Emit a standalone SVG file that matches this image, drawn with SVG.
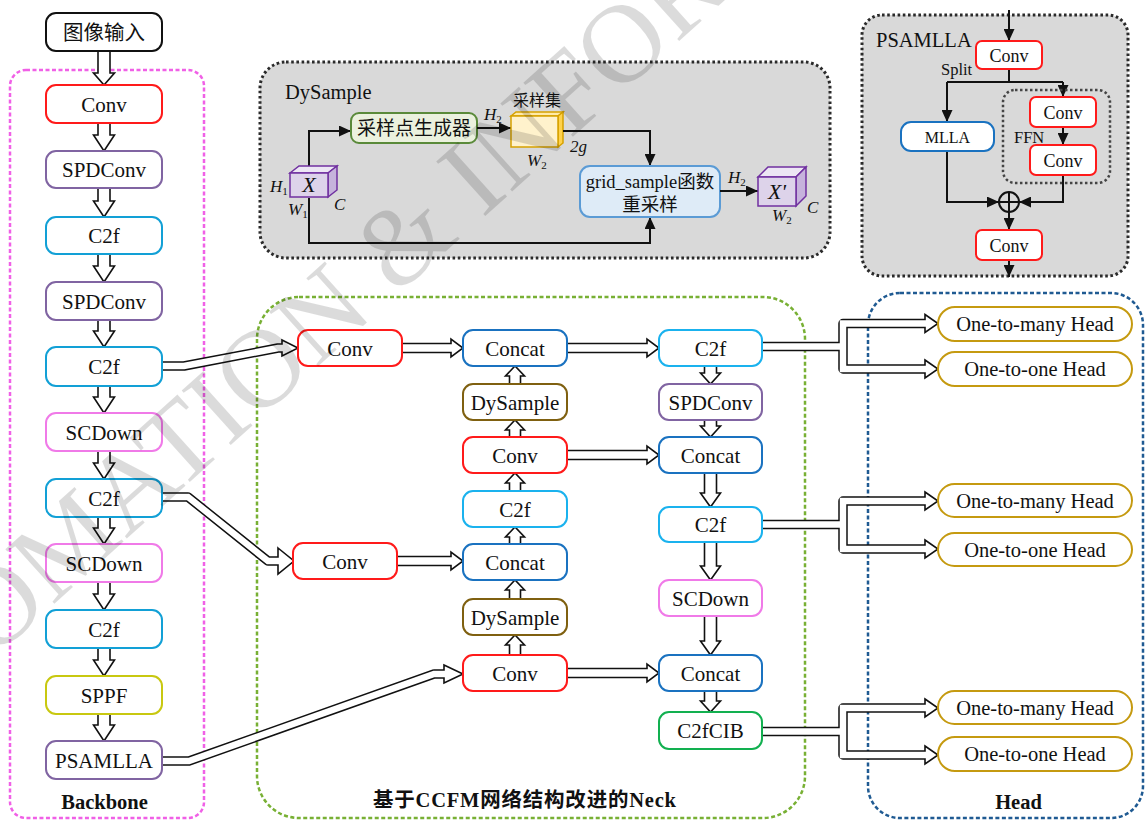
<svg xmlns="http://www.w3.org/2000/svg" width="1146" height="820" viewBox="0 0 1146 820">
  <style>
    .t{font-family:"Liberation Serif","Noto Sans CJK SC",serif;font-size:21px;fill:#111;text-anchor:middle}
    .cjk{font-family:"Noto Sans CJK SC",sans-serif;font-size:20px;fill:#111;text-anchor:middle}
    .b{font-family:"Liberation Serif","Noto Sans CJK SC",serif;font-size:20.5px;font-weight:bold;fill:#111;text-anchor:middle}
    .it{font-family:"Liberation Serif",serif;font-style:italic;font-size:17px;fill:#111}
    .sub{font-size:11px;font-style:normal}
    .n rect{fill:#fff;stroke-width:2}
    .red rect{stroke:#ff1a1a}
    .pur rect{stroke:#8064a2}
    .cy rect{stroke:#12a0d6}
    .cy2 rect{stroke:#1ab2ee}
    .pk rect{stroke:#f07ae8}
    .ol rect{stroke:#c8c810}
    .bl rect{stroke:#1a72c0}
    .br rect{stroke:#7f6010}
    .gr rect{stroke:#12b050}
    .hd rect{stroke:#c59a10}
    .blk rect{stroke:#111}
    .frame{fill:none;stroke-width:2.5;stroke-dasharray:4 2.5}
    .panel{fill:#d9d9d9;stroke:#2a2a2a;stroke-width:3;stroke-dasharray:2.6 2.6}
    .blk-arrow{fill:#fff;stroke:#111;stroke-width:1.6;stroke-linejoin:miter}
    .pipe-o{fill:none;stroke:#111;stroke-width:9.5;stroke-linejoin:round}
    .pipe-i{fill:none;stroke:#fff;stroke-width:6.5;stroke-linejoin:miter}
    .ln{fill:none;stroke:#111;stroke-width:2}
    .wm{font-family:"Liberation Serif",serif;font-size:112px;fill:#000;fill-opacity:0.14}
  </style>
  <defs>
    <marker id="ah" viewBox="0 0 12 11" refX="12" refY="5.5" markerWidth="12" markerHeight="11" markerUnits="userSpaceOnUse" orient="auto">
      <path d="M0,0 L12,5.5 L0,11 z" fill="#111"/>
    </marker>
  </defs>

  <!-- group frames -->
  <rect class="frame" x="10" y="70" width="194" height="748" rx="16" stroke="#f060e6"/>
  <rect class="frame" x="257" y="297" width="548" height="521" rx="42" stroke="#78b034"/>
  <rect class="frame" x="868" y="293" width="275" height="525" rx="32" stroke="#1f5a92"/>
  <text class="b" x="104.5" y="809">Backbone</text>
  <text class="b" x="524.5" y="807" textLength="303" lengthAdjust="spacing">基于CCFM网络结构改进的Neck</text>
  <text class="b" x="1018.5" y="809">Head</text>

  <!-- DySample detail panel -->
  <g id="dysample-panel">
    <rect class="panel" x="260" y="62" width="570" height="196" rx="26"/>
    <text class="t" x="285" y="99" style="text-anchor:start;font-size:20.5px">DySample</text>
    <path class="ln" d="M309,166 V131 H351" marker-end="url(#ah)"/>
    <rect x="351" y="113" width="126" height="30" rx="8" fill="#ebf1de" stroke="#5a8a3a" stroke-width="2"/>
    <text class="t" x="414" y="135" style="font-size:19px;font-family:'Noto Sans CJK SC',sans-serif">采样点生成器</text>
    <path class="ln" d="M477,128 H511" marker-end="url(#ah)"/>
    <text class="it" x="484" y="120">H<tspan class="sub" dy="3">2</tspan></text>
    <!-- sampling set cuboid -->
    <polygon points="511,116 516,112 563,112 558,116" fill="#ffeaa8" stroke="#d6a100" stroke-width="1.5"/>
    <polygon points="558,116 563,112 563,143 558,147" fill="#ffd24d" stroke="#d6a100" stroke-width="1.5"/>
    <rect x="511" y="116" width="47" height="31" fill="#fff2cc" stroke="#d6a100" stroke-width="1.5"/>
    <text class="cjk" x="537" y="106" style="font-size:16px">采样集</text>
    <text class="it" x="527" y="166">W<tspan class="sub" dy="3">2</tspan></text>
    <text class="it" x="570" y="152">2g</text>
    <path class="ln" d="M563,131 H650 V166" marker-end="url(#ah)"/>
    <path class="ln" d="M309,198 V243 H650 V217" marker-end="url(#ah)"/>
    <rect x="580" y="166" width="140" height="51" rx="10" fill="#deebf7" stroke="#5b9bd5" stroke-width="2"/>
    <text class="t" x="650" y="188" style="font-size:18.5px">grid_sample函数</text>
    <text class="t" x="650" y="211" style="font-size:18.5px">重采样</text>
    <path class="ln" d="M720,191 H758" marker-end="url(#ah)"/>
    <text class="it" x="728" y="183">H<tspan class="sub" dy="3">2</tspan></text>
    <!-- input cube X -->
    <polygon points="290,173 299,166 337,166 328,173" fill="#ece6f4" stroke="#7030a0" stroke-width="1.5"/>
    <polygon points="328,173 337,166 337,190 328,197" fill="#c6b3dc" stroke="#7030a0" stroke-width="1.5"/>
    <rect x="290" y="173" width="38" height="24" fill="#ddd3ea" stroke="#7030a0" stroke-width="1.5"/>
    <text class="it" x="309" y="192" style="font-size:22px;text-anchor:middle">X</text>
    <text class="it" x="270" y="192">H<tspan class="sub" dy="3">1</tspan></text>
    <text class="it" x="288" y="215">W<tspan class="sub" dy="3">1</tspan></text>
    <text class="it" x="334" y="210">C</text>
    <!-- output cube X' -->
    <polygon points="758,177 768,167 806,167 796,177" fill="#ece6f4" stroke="#7030a0" stroke-width="1.5"/>
    <polygon points="796,177 806,167 806,196 796,206" fill="#c6b3dc" stroke="#7030a0" stroke-width="1.5"/>
    <rect x="758" y="177" width="38" height="29" fill="#ddd3ea" stroke="#7030a0" stroke-width="1.5"/>
    <text class="it" x="777" y="199" style="font-size:22px;text-anchor:middle">X'</text>
    <text class="it" x="772" y="221">W<tspan class="sub" dy="3">2</tspan></text>
    <text class="it" x="807" y="213">C</text>
  </g>

  <!-- PSAMLLA detail panel -->
  <g id="psamlla-panel">
    <rect class="panel" x="862" y="15" width="266" height="261" rx="20"/>
    <text class="t" x="876" y="47" style="text-anchor:start;font-size:20.5px">PSAMLLA</text>
    <path class="ln" d="M1009,10 V41" marker-end="url(#ah)"/>
    <path class="ln" d="M1009,69 V82 M947,82 H1063"/>
    <path class="ln" d="M947,82 V122" marker-end="url(#ah)"/>
    <path class="ln" d="M1063,82 V97" marker-end="url(#ah)"/>
    <text class="t" x="941" y="75" style="text-anchor:start;font-size:16.5px">Split</text>
    <rect x="1003" y="90" width="107" height="93" rx="12" fill="none" stroke="#444" stroke-width="2.5" stroke-dasharray="2.5 2.5"/>
    <text class="t" x="1014" y="143" style="text-anchor:start;font-size:16.5px">FFN</text>
    <path class="ln" d="M1063,127 V145" marker-end="url(#ah)"/>
    <path class="ln" d="M947,151 V202 H999" marker-end="url(#ah)"/>
    <path class="ln" d="M1063,175 V202 H1019" marker-end="url(#ah)"/>
    <circle cx="1009" cy="202" r="10" fill="none" stroke="#111" stroke-width="2"/>
    <path class="ln" d="M999,202 H1019 M1009,192 V212"/>
    <path class="ln" d="M1009,212 V230" marker-end="url(#ah)"/>
    <path class="ln" d="M1009,260 V277" marker-end="url(#ah)"/>
    <g id="ps-conv-in" class="n red"><rect x="976" y="41" width="66" height="28" rx="6"/><text class="t" x="1009" y="62" style="font-size:18px">Conv</text></g>
    <g id="ps-mlla" class="n bl"><rect x="901" y="122" width="93" height="29" rx="10"/><text class="t" x="947.5" y="143" style="font-size:16px">MLLA</text></g>
    <g id="ps-ffn-conv1" class="n red"><rect x="1030" y="97" width="66" height="30" rx="6"/><text class="t" x="1063" y="119" style="font-size:18px">Conv</text></g>
    <g id="ps-ffn-conv2" class="n red"><rect x="1030" y="145" width="66" height="30" rx="6"/><text class="t" x="1063" y="167" style="font-size:18px">Conv</text></g>
    <g id="ps-conv-out" class="n red"><rect x="976" y="230" width="66" height="30" rx="6"/><text class="t" x="1009" y="252" style="font-size:18px">Conv</text></g>
  </g>

  <!-- connectors -->
  <g id="connectors">
    <!-- backbone chain -->
    <polygon class="blk-arrow" points="98,51 98,73 93.5,73 104,85 114.5,73 110,73 110,51"/>
    <polygon class="blk-arrow" points="98,123 98,135 93.5,135 104,151 114.5,135 110,135 110,123"/>
    <polygon class="blk-arrow" points="98,188 98,201 93.5,201 104,217 114.5,201 110,201 110,188"/>
    <polygon class="blk-arrow" points="98,254 98,266 93.5,266 104,282 114.5,266 110,266 110,254"/>
    <polygon class="blk-arrow" points="98,320 98,331 93.5,331 104,347 114.5,331 110,331 110,320"/>
    <polygon class="blk-arrow" points="98,386 98,397 93.5,397 104,413 114.5,397 110,397 110,386"/>
    <polygon class="blk-arrow" points="98,451 98,463 93.5,463 104,479 114.5,463 110,463 110,451"/>
    <polygon class="blk-arrow" points="98,517 98,528 93.5,528 104,544 114.5,528 110,528 110,517"/>
    <polygon class="blk-arrow" points="98,582 98,594 93.5,594 104,610 114.5,594 110,594 110,582"/>
    <polygon class="blk-arrow" points="98,648 98,660 93.5,660 104,676 114.5,660 110,660 110,648"/>
    <polygon class="blk-arrow" points="98,714 98,725 93.5,725 104,741 114.5,725 110,725 110,714"/>

    <!-- backbone to neck pipes -->
    <path class="pipe-o" d="M160,366 H184 L278,348 H284"/>
    <path class="pipe-o" d="M160,497 H188 L268,561 H280"/>
    <path class="pipe-o" d="M160,761 H189 L434,674 H446"/>
    <polygon class="blk-arrow" points="282,340 298,348 282,356"/>
    <polygon class="blk-arrow" points="278,548 294,561 278,574"/>
    <polygon class="blk-arrow" points="444,665 463,674 444,683"/>
    <path class="pipe-i" d="M160,366 H184 L278,348 H284.5"/>
    <path class="pipe-i" d="M160,497 H188 L268,561 H280.5"/>
    <path class="pipe-i" d="M160,761 H189 L434,674 H446.5"/>

    <!-- neck horizontal arrows -->
    <polygon class="blk-arrow" points="402,343.5 451,343.5 451,339 463,348 451,357 451,352.5 402,352.5"/>
    <polygon class="blk-arrow" points="567,343.5 647,343.5 647,339 659,348 647,357 647,352.5 567,352.5"/>
    <polygon class="blk-arrow" points="567,450.5 647,450.5 647,446 659,455 647,464 647,459.5 567,459.5"/>
    <polygon class="blk-arrow" points="397,556.5 451,556.5 451,552 463,561 451,570 451,565.5 397,565.5"/>
    <polygon class="blk-arrow" points="567,668.5 647,668.5 647,664 659,673 647,682 647,677.5 567,677.5"/>

    <!-- neck upward column -->
    <polygon class="blk-arrow" points="509.5,384 509.5,376 505.5,376 515,366 524.5,376 520.5,376 520.5,384"/>
    <polygon class="blk-arrow" points="509.5,437 509.5,430 505.5,430 515,420 524.5,430 520.5,430 520.5,437"/>
    <polygon class="blk-arrow" points="509.5,491 509.5,483 505.5,483 515,473 524.5,483 520.5,483 520.5,491"/>
    <polygon class="blk-arrow" points="509.5,544 509.5,537 505.5,537 515,527 524.5,537 520.5,537 520.5,544"/>
    <polygon class="blk-arrow" points="509.5,599 509.5,590 505.5,590 515,580 524.5,590 520.5,590 520.5,599"/>
    <polygon class="blk-arrow" points="509.5,655 509.5,645 505.5,645 515,635 524.5,645 520.5,645 520.5,655"/>

    <!-- neck downward column -->
    <polygon class="blk-arrow" points="704.5,366 704.5,373 700.5,373 710.5,384 720.5,373 716.5,373 716.5,366"/>
    <polygon class="blk-arrow" points="704.5,420 704.5,426 700.5,426 710.5,437 720.5,426 716.5,426 716.5,420"/>
    <polygon class="blk-arrow" points="704.5,473 704.5,493 700.5,493 710.5,507 720.5,493 716.5,493 716.5,473"/>
    <polygon class="blk-arrow" points="704.5,542 704.5,566 700.5,566 710.5,580 720.5,566 716.5,566 716.5,542"/>
    <polygon class="blk-arrow" points="704.5,616 704.5,641 700.5,641 710.5,655 720.5,641 716.5,641 716.5,616"/>
    <polygon class="blk-arrow" points="704.5,691 704.5,701 700.5,701 710.5,712 720.5,701 716.5,701 716.5,691"/>

    <!-- neck to head forks -->
    <path class="pipe-o" d="M760,346.5 H843 V323.5 H927 M843,346.5 V369 H927"/>
    <path class="pipe-o" d="M760,524.5 H843 V501 H927 M843,524.5 V549 H927"/>
    <path class="pipe-o" d="M760,731.5 H843 V708 H927 M843,731.5 V755 H927"/>
    <polygon class="blk-arrow" points="925,314.5 938,323.5 925,332.5"/>
    <polygon class="blk-arrow" points="925,360 938,369 925,378"/>
    <polygon class="blk-arrow" points="925,492 938,501 925,510"/>
    <polygon class="blk-arrow" points="925,540 938,549 925,558"/>
    <polygon class="blk-arrow" points="925,699 938,708 925,717"/>
    <polygon class="blk-arrow" points="925,746 938,755 925,764"/>
    <path class="pipe-i" d="M760,346.5 H843 V323.5 H927 M843,346.5 V369 H927"/>
    <path class="pipe-i" d="M760,524.5 H843 V501 H927 M843,524.5 V549 H927"/>
    <path class="pipe-i" d="M760,731.5 H843 V708 H927 M843,731.5 V755 H927"/>
  </g>

  <!-- backbone nodes -->
  <g id="input" class="n blk"><rect x="46" y="13" width="116" height="38" rx="10"/><text class="cjk" x="104" y="40" style="font-size:20.5px">图像输入</text></g>
  <g id="bb-conv" class="n red"><rect x="46" y="85" width="116" height="38" rx="10"/><text class="t" x="104" y="112">Conv</text></g>
  <g id="bb-spdconv1" class="n pur"><rect x="46" y="151" width="116" height="37" rx="10"/><text class="t" x="104" y="177">SPDConv</text></g>
  <g id="bb-c2f1" class="n cy"><rect x="46" y="217" width="116" height="37" rx="10"/><text class="t" x="104" y="243">C2f</text></g>
  <g id="bb-spdconv2" class="n pur"><rect x="46" y="282" width="116" height="38" rx="10"/><text class="t" x="104" y="309">SPDConv</text></g>
  <g id="bb-c2f2" class="n cy"><rect x="46" y="347" width="116" height="39" rx="10"/><text class="t" x="104" y="374">C2f</text></g>
  <g id="bb-scdown1" class="n pk"><rect x="46" y="413" width="116" height="38" rx="10"/><text class="t" x="104" y="440">SCDown</text></g>
  <g id="bb-c2f3" class="n cy"><rect x="46" y="479" width="116" height="38" rx="10"/><text class="t" x="104" y="506">C2f</text></g>
  <g id="bb-scdown2" class="n pk"><rect x="46" y="544" width="116" height="38" rx="10"/><text class="t" x="104" y="571">SCDown</text></g>
  <g id="bb-c2f4" class="n cy"><rect x="46" y="610" width="116" height="38" rx="10"/><text class="t" x="104" y="637">C2f</text></g>
  <g id="bb-sppf" class="n ol"><rect x="46" y="676" width="116" height="38" rx="10"/><text class="t" x="104" y="703">SPPF</text></g>
  <g id="bb-psamlla" class="n pur"><rect x="46" y="741" width="116" height="38" rx="10"/><text class="t" x="104" y="768">PSAMLLA</text></g>

  <!-- neck nodes -->
  <g id="nk-conv-a" class="n red"><rect x="298" y="330" width="104" height="36" rx="10"/><text class="t" x="350" y="356">Conv</text></g>
  <g id="nk-conv-b" class="n red"><rect x="293" y="543" width="104" height="36" rx="10"/><text class="t" x="345" y="569">Conv</text></g>
  <g id="nk-concat1" class="n bl"><rect x="463" y="330" width="104" height="36" rx="10"/><text class="t" x="515" y="356">Concat</text></g>
  <g id="nk-dysample1" class="n br"><rect x="463" y="384" width="104" height="36" rx="10"/><text class="t" x="515" y="410">DySample</text></g>
  <g id="nk-conv-c" class="n red"><rect x="463" y="437" width="104" height="36" rx="10"/><text class="t" x="515" y="463">Conv</text></g>
  <g id="nk-c2f-up" class="n cy2"><rect x="463" y="491" width="104" height="36" rx="10"/><text class="t" x="515" y="517">C2f</text></g>
  <g id="nk-concat2" class="n bl"><rect x="463" y="544" width="104" height="36" rx="10"/><text class="t" x="515" y="570">Concat</text></g>
  <g id="nk-dysample2" class="n br"><rect x="463" y="599" width="104" height="36" rx="10"/><text class="t" x="515" y="625">DySample</text></g>
  <g id="nk-conv-d" class="n red"><rect x="463" y="655" width="104" height="36" rx="10"/><text class="t" x="515" y="681">Conv</text></g>
  <g id="nk-c2f-out1" class="n cy2"><rect x="659" y="330" width="103" height="36" rx="10"/><text class="t" x="710.5" y="356">C2f</text></g>
  <g id="nk-spdconv" class="n pur"><rect x="659" y="384" width="103" height="36" rx="10"/><text class="t" x="710.5" y="410">SPDConv</text></g>
  <g id="nk-concat3" class="n bl"><rect x="659" y="437" width="103" height="36" rx="10"/><text class="t" x="710.5" y="463">Concat</text></g>
  <g id="nk-c2f-out2" class="n cy2"><rect x="659" y="507" width="103" height="35" rx="10"/><text class="t" x="710.5" y="532">C2f</text></g>
  <g id="nk-scdown" class="n pk"><rect x="659" y="580" width="103" height="36" rx="10"/><text class="t" x="710.5" y="606">SCDown</text></g>
  <g id="nk-concat4" class="n bl"><rect x="659" y="655" width="103" height="36" rx="10"/><text class="t" x="710.5" y="681">Concat</text></g>
  <g id="nk-c2fcib" class="n gr"><rect x="659" y="712" width="103" height="37" rx="10"/><text class="t" x="710.5" y="738">C2fCIB</text></g>

  <!-- head nodes -->
  <g id="hd-many1" class="n hd"><rect x="938" y="307" width="194" height="34" rx="17"/><text class="t" x="1035" y="331" style="font-size:20.5px">One-to-many Head</text></g>
  <g id="hd-one1" class="n hd"><rect x="938" y="352" width="194" height="34" rx="17"/><text class="t" x="1035" y="376" style="font-size:20.5px">One-to-one Head</text></g>
  <g id="hd-many2" class="n hd"><rect x="938" y="484" width="194" height="33" rx="16.5"/><text class="t" x="1035" y="508" style="font-size:20.5px">One-to-many Head</text></g>
  <g id="hd-one2" class="n hd"><rect x="938" y="533" width="194" height="33" rx="16.5"/><text class="t" x="1035" y="557" style="font-size:20.5px">One-to-one Head</text></g>
  <g id="hd-many3" class="n hd"><rect x="938" y="691" width="194" height="33" rx="16.5"/><text class="t" x="1035" y="715" style="font-size:20.5px">One-to-many Head</text></g>
  <g id="hd-one3" class="n hd"><rect x="938" y="737" width="194" height="34" rx="17"/><text class="t" x="1035" y="761" style="font-size:20.5px">One-to-one Head</text></g>

  <!-- publisher watermark -->
  <text class="wm" transform="translate(-8,660) rotate(-42)">OMATION &amp; INFORM</text>
</svg>
